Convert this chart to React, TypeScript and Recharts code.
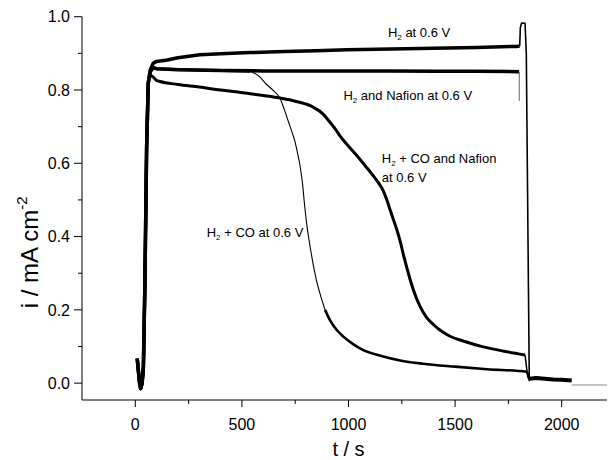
import React from "react";
import { LineChart, Line, XAxis, YAxis, ReferenceDot } from "recharts";

// ---- tick values ----
const xMajorTicks = [0, 500, 1000, 1500, 2000];
const xMinorTicks = [250, 750, 1250, 1750];
const yMajorTicks = [0, 0.2, 0.4, 0.6, 0.8, 1.0];
const yMinorTicks = [0.1, 0.3, 0.5, 0.7, 0.9];

// ---- common start (potential step) ----
const startT = [9, 15, 20, 25, 32, 38, 45, 53, 61];
const startV = [0.067, 0.03, 0.0, -0.015, 0.0, 0.045, 0.27, 0.64, 0.82];

// ---- H2 at 0.6 V ----
const h2T = [70, 84, 100, 150, 200, 303, 400, 538, 700, 850, 992, 1200, 1400, 1600, 1790, 1803];
const h2V = [0.855, 0.873, 0.878, 0.882, 0.888, 0.896, 0.899, 0.902, 0.905, 0.907, 0.91, 0.912, 0.914, 0.916, 0.919, 0.92];
const h2SpikeT = [1803, 1806, 1812, 1828, 1834, 1848];
const h2SpikeV = [0.92, 0.97, 0.983, 0.982, 0.9, 0.005];
const tailT = [1848, 1880, 1920, 1960, 2000, 2047];
const tailV = [0.012, 0.014, 0.012, 0.01, 0.009, 0.007];
const baseT = [2047, 2250];
const baseV = [-0.005, -0.005];

// ---- H2 and Nafion at 0.6 V ----
const nafT = [70, 84, 100, 200, 400, 600, 800, 1000, 1200, 1400, 1600, 1800];
const nafV = [0.85, 0.862, 0.858, 0.855, 0.853, 0.852, 0.852, 0.852, 0.852, 0.851, 0.851, 0.85];
const nafDropT = [1801, 1801];
const nafDropV = [0.85, 0.77];

// ---- H2 + CO at 0.6 V ----
const coFlatT = [70, 84, 100, 200, 400, 538];
const coFlatV = [0.85, 0.86, 0.858, 0.856, 0.853, 0.851];
const coFallT = [538, 580, 616, 650, 679, 700, 718, 735, 749, 762, 772, 785, 795, 805, 815, 825, 835, 850, 866, 890];
const coFallV = [0.851, 0.838, 0.815, 0.797, 0.777, 0.745, 0.714, 0.685, 0.659, 0.625, 0.596, 0.541, 0.48, 0.43, 0.39, 0.355, 0.322, 0.28, 0.245, 0.2];
const coTailT = [890, 913, 945, 976, 1020, 1069, 1150, 1242, 1350, 1500, 1650, 1836, 1848];
const coTailV = [0.2, 0.172, 0.145, 0.127, 0.107, 0.09, 0.075, 0.062, 0.053, 0.045, 0.038, 0.031, 0.01];

// ---- H2 + CO and Nafion at 0.6 V ----
const coNafT = [70, 84, 100, 116, 200, 300, 400, 460, 538, 600, 679, 760, 835, 880, 913, 940, 960, 992, 1038, 1080, 1116, 1140, 1163, 1180, 1195, 1210, 1226, 1241, 1260, 1288, 1304, 1335, 1365, 1398, 1440, 1476, 1538, 1632, 1730, 1828];
const coNafV = [0.84, 0.835, 0.826, 0.823, 0.815, 0.808, 0.8, 0.796, 0.79, 0.785, 0.778, 0.768, 0.753, 0.735, 0.712, 0.692, 0.675, 0.652, 0.622, 0.592, 0.566, 0.547, 0.525, 0.5, 0.473, 0.447, 0.42, 0.39, 0.345, 0.285, 0.255, 0.21, 0.18, 0.16, 0.14, 0.128, 0.115, 0.099, 0.087, 0.077];
const coNafDropT = [1828, 1840, 1848];
const coNafDropV = [0.077, 0.02, 0.01];

const pts = (ts: number[], vs: number[]) => ts.map((t, i) => ({ t, v: vs[i] }));
const withStart = (ts: number[], vs: number[]) => pts([...startT, ...ts], [...startV, ...vs]);

const FONT = "'Liberation Sans', Arial, Helvetica, sans-serif";

const XTick = (props: any) => {
  const { x, y, payload } = props;
  const v = payload.value;
  const major = v % 500 === 0;
  return (
    <g>
      <line x1={x} x2={x} y1={y} y2={y + (major ? 7 : 4)} stroke="#000" strokeWidth={1} />
      {major && (
        <text x={x} y={y + 29.5} textAnchor="middle" fontSize={16} fontFamily={FONT} fill="#000">
          {v}
        </text>
      )}
    </g>
  );
};

const YTick = (props: any) => {
  const { x, y, payload } = props;
  const v = payload.value;
  const major = Math.round(v * 10) % 2 === 0;
  return (
    <g>
      <line x1={x - (major ? 8 : 4)} x2={x} y1={y} y2={y} stroke="#000" strokeWidth={1} />
      {major && (
        <text x={x - 12} y={y} dy="0.36em" textAnchor="end" fontSize={16} fontFamily={FONT} fill="#000">
          {v.toFixed(1)}
        </text>
      )}
    </g>
  );
};

const annot = (rest: string, second?: string) => (p: any) => (
  <text x={p.cx} y={p.cy} fontSize={13} fontFamily={FONT} fill="#000">
    <tspan>H</tspan>
    <tspan fontSize={8} dy={3}>2</tspan>
    <tspan dy={-3}>{rest}</tspan>
    {second && (
      <tspan x={p.cx} dy={18.4}>
        {second}
      </tspan>
    )}
  </text>
);

const series: { data: { t: number; v: number }[]; w: number; c?: string; smooth?: boolean }[] = [
  { data: withStart(h2T, h2V), w: 3.5 },
  { data: pts(h2SpikeT, h2SpikeV), w: 1.6 },
  { data: pts(tailT, tailV), w: 4 },
  { data: pts(baseT, baseV), w: 1, c: "#8a8a8a" },
  { data: withStart(nafT, nafV), w: 3.5 },
  { data: pts(nafDropT, nafDropV), w: 1, c: "#666" },
  { data: withStart(coFlatT, coFlatV), w: 3 },
  { data: pts(coFallT, coFallV), w: 1.1, smooth: true },
  { data: pts(coTailT, coTailV), w: 2.6, smooth: true },
  { data: withStart(coNafT, coNafV), w: 3, smooth: true },
  { data: pts(coNafDropT, coNafDropV), w: 1.5 },
];

export default function App() {
  return (
    <LineChart width={607} height={452} margin={{ top: 8.7, right: 0, left: 0, bottom: 0 }}>
      <XAxis
        type="number"
        dataKey="t"
        domain={[-250, 2250]}
        ticks={[...xMajorTicks, ...xMinorTicks].sort((a, b) => a - b)}
        interval={0}
        allowDataOverflow
        height={60}
        tickSize={0}
        tickMargin={0}
        tickLine={false}
        axisLine={{ stroke: "#000", strokeWidth: 1 }}
        tick={XTick}
        label={{
          content: (p: any) => {
            const vb = p.viewBox;
            return (
              <text x={vb.x + vb.width / 2} y={vb.y + 56} textAnchor="middle" fontSize={20} fontFamily={FONT} fill="#000">
                t / s
              </text>
            );
          },
        }}
      />
      <YAxis
        type="number"
        dataKey="v"
        domain={[-0.046, 1.0]}
        ticks={[...yMajorTicks, ...yMinorTicks].sort((a, b) => a - b)}
        interval={0}
        allowDataOverflow
        width={74}
        tickSize={0}
        tickMargin={0}
        tickLine={false}
        axisLine={{ stroke: "#000", strokeWidth: 1 }}
        tick={YTick}
        label={{
          content: (p: any) => {
            const vb = p.viewBox;
            const cx = vb.x + 30;
            const cy = vb.y + vb.height / 2 + 44;
            return (
              <text x={cx} y={cy} transform={`rotate(-90 ${cx} ${cy})`} textAnchor="middle" fontSize={24} fontFamily={FONT} fill="#000">
                <tspan>i / mA cm</tspan>
                <tspan fontSize={15} dy={-11}>-2</tspan>
              </text>
            );
          },
        }}
      />
      {series.map((s, i) => (
        <Line
          key={i}
          data={s.data}
          dataKey="v"
          type={s.smooth ? "monotone" : "linear"}
          stroke={s.c || "#000"}
          strokeWidth={s.w}
          dot={false}
          activeDot={false}
          isAnimationActive={false}
          strokeLinejoin="round"
        />
      ))}
      <ReferenceDot x={1185} y={0.945} r={0} ifOverflow="visible" shape={annot(" at 0.6 V")} />
      <ReferenceDot x={976} y={0.773} r={0} ifOverflow="visible" shape={annot(" and Nafion at 0.6 V")} />
      <ReferenceDot x={1156} y={0.6} r={0} ifOverflow="visible" shape={annot(" + CO and Nafion", "at 0.6 V")} />
      <ReferenceDot x={335} y={0.4} r={0} ifOverflow="visible" shape={annot(" + CO at 0.6 V")} />
    </LineChart>
  );
}
